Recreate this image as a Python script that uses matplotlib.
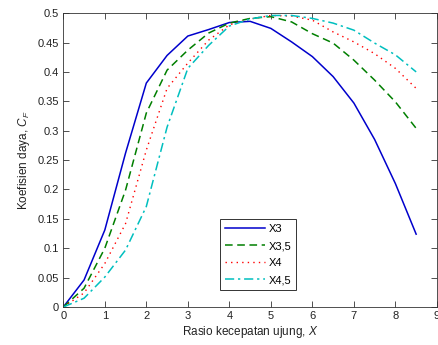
import matplotlib
matplotlib.use("Agg")
import matplotlib.pyplot as plt

x = [0, 0.5, 1, 1.5, 2, 2.5, 3, 3.5, 4, 4.5, 5, 5.5, 6, 6.5, 7, 7.5, 8, 8.5]
cp_x3 = [0, 0.046, 0.131, 0.262, 0.381, 0.428, 0.461, 0.472, 0.484, 0.486, 0.474, 0.451,
         0.426, 0.392, 0.347, 0.285, 0.210, 0.124]
cp_x35 = [0, 0.032, 0.100, 0.199, 0.330, 0.403, 0.437, 0.466, 0.483, 0.491, 0.494, 0.485,
          0.465, 0.449, 0.420, 0.386, 0.349, 0.304]
cp_x4 = [0, 0.024, 0.074, 0.142, 0.267, 0.372, 0.415, 0.454, 0.480, 0.490, 0.496, 0.495,
         0.488, 0.468, 0.451, 0.431, 0.406, 0.372]
cp_x45 = [0, 0.015, 0.051, 0.097, 0.171, 0.306, 0.406, 0.445, 0.478, 0.490, 0.496, 0.496,
          0.491, 0.483, 0.471, 0.449, 0.429, 0.400]
labels = ["X3", "X3,5", "X4", "X4,5"]

plt.rcParams['font.family'] = ['Liberation Sans', 'DejaVu Sans']
plt.rcParams['mathtext.fontset'] = 'custom'
plt.rcParams['mathtext.it'] = 'Liberation Sans:italic'
plt.rcParams['mathtext.rm'] = 'Liberation Sans'

fig = plt.figure(figsize=(4.38, 3.45), dpi=100)
ax = fig.add_axes([0.1445, 0.110, 0.853, 0.852])

ax.plot(x, cp_x3, color='#0000cc', lw=1.1, ls='-', label=labels[0])
ax.plot(x, cp_x35, color='#007f00', lw=1.1, ls=(0, (5, 3)), label=labels[1])
ax.plot(x, cp_x4, color='#ff0000', lw=1.0, ls=(0, (1, 3)), label=labels[2])
ax.plot(x, cp_x45, color='#00bfbf', lw=1.1, ls=(0, (6, 2.5, 1.5, 2.5)), label=labels[3])

ax.set_xlim(0, 9)
ax.set_ylim(0, 0.5)
ax.set_xticks(range(0, 10))
ax.set_yticks([0, 0.05, 0.1, 0.15, 0.2, 0.25, 0.3, 0.35, 0.4, 0.45, 0.5])
ax.set_yticklabels(['0', '0.05', '0.1', '0.15', '0.2', '0.25', '0.3', '0.35', '0.4', '0.45', '0.5'])
ax.tick_params(direction='in', top=True, right=True, labelsize=8, length=4, width=0.6,
               colors='#333333', labelcolor='#222222', pad=3)
for s in ax.spines.values():
    s.set_linewidth(0.6)
    s.set_color('#333333')

ax.set_xlabel('Rasio kecepatan ujung, $\\mathit{X}$', fontsize=8.5, color='#222222', labelpad=2)
ax.set_ylabel('Koefisien daya, $\\mathit{C_F}$', fontsize=8.5, color='#222222', labelpad=4)

leg = ax.legend(loc='lower left', bbox_to_anchor=(0.42, 0.058), fontsize=8,
                frameon=True, fancybox=False, edgecolor='black', handlelength=3.6,
                handletextpad=0.3, borderpad=0.45, labelspacing=0.62, borderaxespad=0)
leg.get_frame().set_linewidth(0.7)

fig.savefig('out.png', dpi=100)
